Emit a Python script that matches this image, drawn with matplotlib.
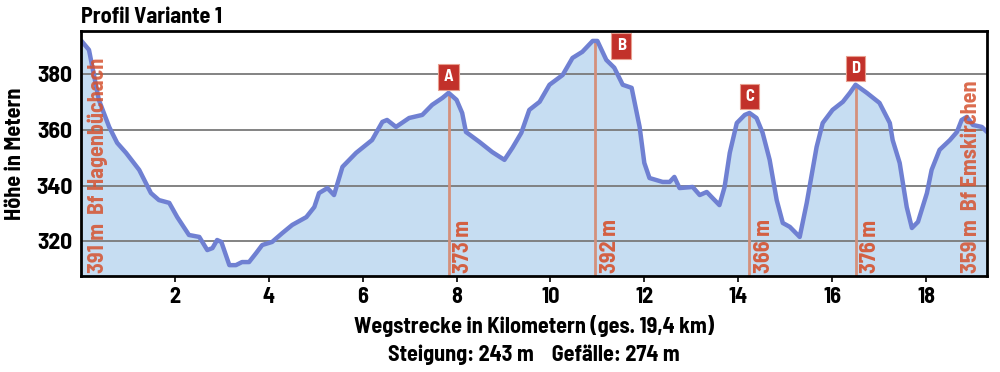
import matplotlib
matplotlib.use('Agg')
import matplotlib.pyplot as plt

km = [0.0, 0.17, 0.38, 0.6, 0.77, 0.96, 1.24, 1.49, 1.66, 1.88, 2.05, 2.3, 2.52, 2.69,
      2.8, 2.9, 2.99, 3.16, 3.3, 3.43, 3.58, 3.73, 3.86, 4.07, 4.29, 4.5, 4.8, 4.97,
      5.07, 5.25, 5.39, 5.57, 5.86, 6.2, 6.42, 6.52, 6.71, 6.99, 7.27, 7.48, 7.7, 7.83,
      8.0, 8.12, 8.2, 8.49, 8.76, 9.02, 9.19, 9.38, 9.55, 9.77, 9.98, 10.26, 10.47,
      10.68, 10.9, 11.0, 11.19, 11.36, 11.54, 11.73, 11.9, 12.0, 12.11, 12.39, 12.54,
      12.64, 12.75, 13.03, 13.18, 13.33, 13.45, 13.6, 13.71, 13.82, 13.97, 14.14, 14.24,
      14.39, 14.52, 14.67, 14.82, 14.95, 15.1, 15.31, 15.46, 15.67, 15.8, 16.01, 16.23,
      16.38, 16.5, 16.74, 17.01, 17.23, 17.29, 17.44, 17.59, 17.7, 17.83, 18.02, 18.12,
      18.29, 18.51, 18.66, 18.76, 18.87, 19.0, 19.19, 19.3]
hoehe = [392, 388.6, 370.7, 361, 355.3, 351.7, 345.6, 337.3, 334.8, 333.8, 328.7, 322.3,
         321.6, 316.9, 317.6, 320.5, 319.8, 311.5, 311.5, 312.6, 312.6, 315.8, 318.7,
         319.8, 323, 325.9, 328.7, 332.3, 337.3, 339.1, 336.6, 346.7, 351.7, 356.3, 362.8,
         363.5, 361, 364.2, 365.3, 368.9, 371.4, 373.2, 370.7, 366, 359.2, 355.6, 352,
         349.2, 353.5, 358.9, 367.1, 370, 376.1, 379.6, 385.7, 387.9, 391.8, 391.8, 385,
         382.2, 376.1, 375, 361, 348.1, 342.7, 341.3, 341.3, 343.1, 339.1, 339.5, 336.6,
         337.7, 335.6, 333, 339.5, 351.7, 362.4, 365.3, 366, 364.2, 358.9, 349.2, 334.8,
         326.6, 325.2, 321.6, 333.8, 353.8, 362.4, 367.1, 370, 373.2, 376.1, 373.2, 369.6,
         362.4, 356.3, 348.1, 332.3, 324.8, 327, 337.3, 345.6, 352.8, 356.3, 359.2, 363.5,
         364.6, 361.7, 361, 359.2]

gipfel_km = [7.83, 10.96, 14.24, 16.5]
gipfel_m = [373, 392, 366, 376]
gipfel_name = ['A', 'B', 'C', 'D']

start_text = '391 m  Bf Hagenbüchach'
ziel_text = '359 m  Bf Emskirchen'

plt.rcParams['font.family'] = ['Barlow Semi Condensed', 'DejaVu Sans']
plt.rcParams['font.weight'] = 'bold'
plt.rcParams['axes.labelweight'] = 'bold'

rot = '#d5522f'
linie_rot = '#d4907c'

fig = plt.figure(figsize=(10, 3.72), dpi=100)
ax = fig.add_axes([0.081, 0.258, 0.906, 0.659])

ax.fill_between(km, hoehe, 300, color='#c6ddf2', zorder=1)
ax.plot(km, hoehe, color='#6f80d2', linewidth=3.2, zorder=4,
        solid_capstyle='round', solid_joinstyle='round')

for y in [320, 340, 360, 380]:
    ax.axhline(y, color='#7a7a7a', linewidth=1.3, zorder=2)

ymin = 307.6
for x, m, name in zip(gipfel_km, gipfel_m, gipfel_name):
    ax.plot([x, x], [ymin, m], color=linie_rot, linewidth=2, zorder=3)
    ax.text(x + 0.1, ymin + 1.2, f'{m} m', rotation=90, color=rot, fontsize=16,
            ha='left', va='bottom', zorder=5, alpha=0.9)
    dx = 0.55 if name == 'B' else 0.0
    dy = -2.0 if name == 'B' else 5.9
    ax.text(x + dx, m + dy, name, color='white', fontsize=12, ha='center', va='center',
            zorder=6, bbox=dict(boxstyle='square,pad=0.32', fc='#c2312a', ec='#e8a090', lw=0.8))

ax.text(0.13, ymin + 1.2, start_text, rotation=90, color=rot, fontsize=16,
        ha='left', va='bottom', zorder=5, alpha=0.85)
ax.text(18.95, ymin + 1.2, ziel_text, rotation=90, color=rot, fontsize=16,
        ha='center', va='bottom', zorder=5, alpha=0.85)

ax.set_xlim(0, 19.3)
ax.set_ylim(ymin, 395.4)
ax.set_xticks(range(2, 19, 2))
ax.set_yticks([320, 340, 360, 380])
ax.tick_params(axis='x', length=4, width=1.2, labelsize=16, pad=4)
ax.tick_params(axis='y', length=0, labelsize=17, pad=6)
for s in ax.spines.values():
    s.set_linewidth(2)
    s.set_zorder(7)

ax.set_ylabel('Höhe in Metern', fontsize=16, labelpad=8)
ax.set_xlabel('Wegstrecke in Kilometern (ges. 19,4 km)\nSteigung: 243 m    Gefälle: 274 m',
              fontsize=16, labelpad=6, linespacing=1.4)
fig.text(0.081, 0.955, 'Profil Variante 1', fontsize=16, ha='left', va='center')

plt.savefig('out.png', dpi=100)
plt.close()
